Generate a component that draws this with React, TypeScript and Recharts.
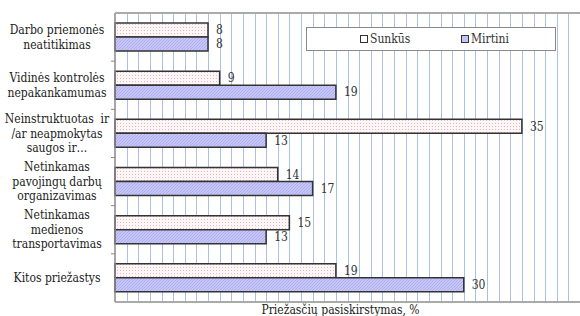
import React from "react";
import { BarChart, Bar, XAxis, YAxis, LabelList } from "recharts";

const categories = [
  "Darbo priemonės\nneatitikimas",
  "Vidinės kontrolės\nnepakankamumas",
  "Neinstruktuotas  ir\n/ar neapmokytas\nsaugos ir…",
  "Netinkamas\npavojingų darbų\norganizavimas",
  "Netinkamas\nmedienos\ntransportavimas",
  "Kitos priežastys",
];
const sunkus = [8, 9, 35, 14, 15, 19];
const mirtini = [8, 19, 13, 17, 13, 30];
const xMax = 40;
const xTicks = Array.from({ length: xMax + 1 }, (_, i) => i);
const xTitle = "Priežasčių pasiskirstymas, %";

const data = categories.map((name, i) => ({ name, sunkus: sunkus[i], mirtini: mirtini[i] }));

const FONT = "'DejaVu Serif Condensed', 'DejaVu Serif'";
const W = 580;
const H = 316;
const M = { top: 13, right: 0, bottom: 0, left: 0 };
const Y_W = 115;
const X_H = 14;
const BAND = (H - M.top - M.bottom - X_H) / categories.length;

// vertical grid line for every x tick (drawn in a chart placed under the bars)
function GridTick(props: any) {
  const { x, payload } = props;
  if (!payload || payload.value === 0) return <g />;
  const px = Math.round(x) + 0.5;
  return <line x1={px} x2={px} y1={M.top} y2={H - X_H} stroke="#a9c1ea" strokeWidth={1} />;
}

function CategoryTick(props: any) {
  const { y, payload, index } = props;
  const lines = String(payload.value).split("\n");
  const lh = 14.5;
  const y0 = y - ((lines.length - 1) * lh) / 2;
  return (
    <g>
      <text x={57} y={y0} textAnchor="middle" fontSize={12} fill="#222" style={{ whiteSpace: "pre", fontFamily: FONT }}>
        {lines.map((l, i) => (
          <tspan key={i} x={57} y={y0 + i * lh} dy="0.35em">
            {l}
          </tspan>
        ))}
      </text>
      {index < categories.length - 1 && (
        <line x1={Y_W - 4} x2={Y_W} y1={y + BAND / 2} y2={y + BAND / 2} stroke="#888" strokeWidth={1} />
      )}
      {index === 0 && (
        <line x1={Y_W} x2={W} y1={y - BAND / 2} y2={y - BAND / 2} stroke="#aaa" strokeWidth={2} />
      )}
    </g>
  );
}

const NoTick = () => <g />;

function XTitle(props: any) {
  const vb = props.viewBox || {};
  const cx = (vb.x ?? 0) + (vb.width ?? 0) / 2 - 7;
  const by = (vb.y ?? 0) + (vb.height ?? 0) - 2;
  return (
    <text x={cx} y={by} textAnchor="middle" fontSize={12} fill="#222" style={{ fontFamily: FONT }}>
      {xTitle}
    </text>
  );
}

function Legendbox() {
  const item = (label: string, fill: string) => (
    <span style={{ display: "inline-flex", alignItems: "center" }}>
      <span
        style={{
          display: "inline-block",
          width: 6,
          height: 6,
          border: "1.5px solid #333",
          background: fill,
          marginRight: 2,
        }}
      />
      {label}
    </span>
  );
  return (
    <div
      style={{
        position: "absolute",
        left: 306,
        top: 27,
        width: 250,
        height: 24,
        border: "1px solid #888",
        background: "#fff",
        fontFamily: FONT,
        fontSize: 12,
        color: "#333",
        boxSizing: "border-box",
      }}
    >
      <span style={{ position: "absolute", left: 53, top: 4 }}>{item("Sunkūs", "#fff")}</span>
      <span style={{ position: "absolute", left: 154, top: 4 }}>{item("Mirtini", "#c4c4f4")}</span>
    </div>
  );
}

const layer: React.CSSProperties = { position: "absolute", left: 0, top: 0 };

export default function App() {
  return (
    <div style={{ position: "absolute", left: 0, top: 0, width: W, height: H, background: "#fff", fontFamily: FONT }}>
      {/* grid layer */}
      <div style={layer}>
        <BarChart width={W} height={H} data={data} layout="vertical" margin={M} barSize={14} barGap={0}>
          <XAxis
            type="number"
            domain={[0, xMax]}
            ticks={xTicks}
            interval={0}
            tick={<GridTick />}
            tickLine={false}
            axisLine={false}
            height={X_H}
          />
          <YAxis type="category" dataKey="name" width={Y_W} tick={false} tickLine={false} axisLine={false} />
          <Bar dataKey="sunkus" fill="none" stroke="none" isAnimationActive={false} />
          <Bar dataKey="mirtini" fill="none" stroke="none" isAnimationActive={false} />
        </BarChart>
      </div>
      {/* bars layer */}
      <div style={layer}>
        <BarChart width={W} height={H} data={data} layout="vertical" margin={M} barSize={14} barGap={0}>
          <defs>
            <pattern id="dotsPink" width="3" height="3" patternUnits="userSpaceOnUse">
              <rect width="3" height="3" fill="#fdf6f6" />
              <rect x="0" y="0" width="1" height="1" fill="#e2b8bc" />
            </pattern>
            <pattern id="hatchBlue" width="3" height="3" patternUnits="userSpaceOnUse">
              <rect width="3" height="3" fill="#c6c6fa" />
              <path d="M0,3 L3,0" stroke="#a8a8e6" strokeWidth={0.8} />
            </pattern>
          </defs>
          <XAxis
            type="number"
            domain={[0, xMax]}
            ticks={xTicks}
            interval={0}
            tick={<NoTick />}
            tickLine={false}
            height={X_H}
            axisLine={{ stroke: "#aaa", strokeWidth: 2 }}
            label={<XTitle />}
          />
          <YAxis
            type="category"
            dataKey="name"
            width={Y_W}
            tickLine={false}
            axisLine={{ stroke: "#888", strokeWidth: 1.5 }}
            tick={<CategoryTick />}
            interval={0}
          />
          <Bar dataKey="sunkus" name="Sunkūs" fill="url(#dotsPink)" stroke="#333" strokeWidth={1.5} isAnimationActive={false}>
            <LabelList dataKey="sunkus" position="right" offset={8} fill="#333" fontSize={12} style={{ fontFamily: FONT }} />
          </Bar>
          <Bar dataKey="mirtini" name="Mirtini" fill="url(#hatchBlue)" stroke="#333" strokeWidth={1.5} isAnimationActive={false}>
            <LabelList dataKey="mirtini" position="right" offset={8} fill="#333" fontSize={12} style={{ fontFamily: FONT }} />
          </Bar>
        </BarChart>
      </div>
      <Legendbox />
    </div>
  );
}
